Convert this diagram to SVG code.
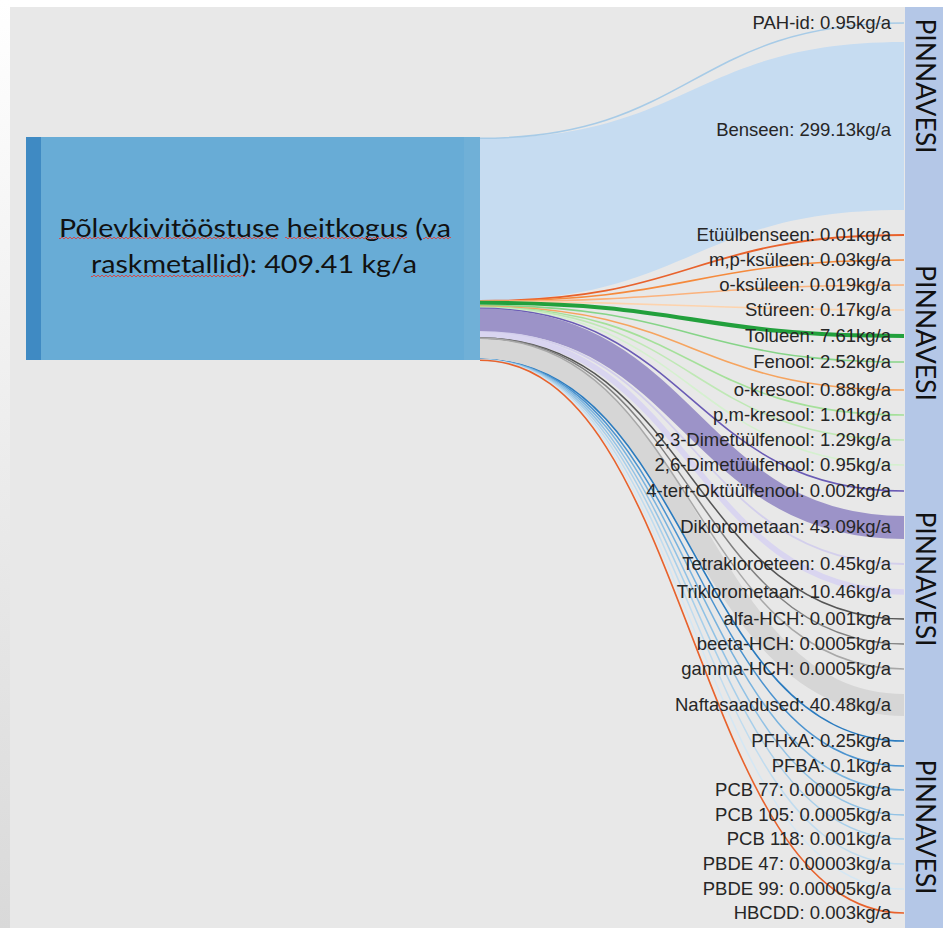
<svg xmlns="http://www.w3.org/2000/svg" width="943" height="928" viewBox="0 0 943 928">
<defs>
<linearGradient id="edge" x1="0" y1="0" x2="0" y2="1">
<stop offset="0" stop-color="#ffffff"/>
<stop offset="1" stop-color="#d9d9d9"/>
</linearGradient>
<pattern id="wave1" x="0" y="0" width="4" height="4" patternUnits="userSpaceOnUse">
<path d="M0,3 L2,1 L4,3" fill="none" stroke="#e0403a" stroke-width="0.9"/>
</pattern>
<pattern id="wave2" x="0" y="2" width="4" height="4" patternUnits="userSpaceOnUse">
<path d="M0,3 L2,1 L4,3" fill="none" stroke="#e0403a" stroke-width="0.9"/>
</pattern>
<style>
.lbl{font-family:"Liberation Sans",Arial,sans-serif;font-size:18.5px;fill:#262626;text-anchor:end}
.main{font-family:Lato,"Open Sans",sans-serif;font-size:25.5px;fill:#111;text-anchor:middle}
.pv{font-family:Lato,"Open Sans",sans-serif;font-size:26px;fill:#111;text-anchor:middle}
.lk{fill:none}
.bar{fill:#b4c7e7}
</style>
</defs>
<rect x="0" y="0" width="943" height="928" fill="#e8e8e8"/>
<rect x="0" y="0" width="943" height="7" fill="#ffffff"/>
<rect x="0" y="0" width="10" height="928" fill="url(#edge)"/>

<g id="connectors">
<path d="M480,138.5 C692,138.5 692,42 904,42 L904,210 C692,210 692,300.6 480,300.6 Z" fill="#c6dcf1"/>
<path class="lk" d="M480,138.3 C692,138.3 692,23 904,23" stroke="#a7cbe7" stroke-width="1.6"/>
<path class="lk" d="M480,301 C692,301 692,235 904,235" stroke="#e8622c" stroke-width="1.8"/>
<path class="lk" d="M480,301.2 C692,301.2 692,260 904,260" stroke="#f58a3c" stroke-width="1.6"/>
<path class="lk" d="M480,301.4 C692,301.4 692,285 904,285" stroke="#fbb27c" stroke-width="1.6"/>
<path class="lk" d="M480,301.6 C692,301.6 692,310 904,310" stroke="#fdd3ad" stroke-width="1.6"/>
<path class="lk" d="M480,302.8 C692,302.8 692,336 904,336" stroke="#22a03c" stroke-width="4.1"/>
<path class="lk" d="M480,305.5 C692,305.5 692,362 904,362" stroke="#86d488" stroke-width="1.6"/>
<path class="lk" d="M480,306.4 C692,306.4 692,390 904,390" stroke="#f6a45f" stroke-width="1.6"/>
<path class="lk" d="M480,307 C692,307 692,415 904,415" stroke="#a5e09a" stroke-width="1.6"/>
<path class="lk" d="M480,307.5 C692,307.5 692,440 904,440" stroke="#bfe8b5" stroke-width="1.6"/>
<path class="lk" d="M480,308 C692,308 692,465 904,465" stroke="#d5f0cf" stroke-width="1.6"/>
<path class="lk" d="M480,308.4 C692,308.4 692,491 904,491" stroke="#6a5bb5" stroke-width="1.6"/>
<path class="lk" d="M480,320.1 C692,320.1 692,527.5 904,527.5" stroke="#9c93c8" stroke-width="23.2"/>
<path class="lk" d="M480,332 C692,332 692,564 904,564" stroke="#d3cfec" stroke-width="1.8"/>
<path class="lk" d="M480,334.9 C692,334.9 692,592 904,592" stroke="#d9d5f0" stroke-width="5.7"/>
<path class="lk" d="M480,348.7 C692,348.7 692,705 904,705" stroke="#d6d6d6" stroke-width="22"/>
<path class="lk" d="M480,337.9 C692,337.9 692,619 904,619" stroke="#555555" stroke-width="1.5"/>
<path class="lk" d="M480,338.1 C692,338.1 692,644 904,644" stroke="#808080" stroke-width="1.5"/>
<path class="lk" d="M480,338.3 C692,338.3 692,669 904,669" stroke="#a8a8a8" stroke-width="1.5"/>
<path class="lk" d="M480,359.4 C692,359.4 692,741 904,741" stroke="#2a7bbf" stroke-width="1.6"/>
<path class="lk" d="M480,359.5 C692,359.5 692,766 904,766" stroke="#4b93cf" stroke-width="1.5"/>
<path class="lk" d="M480,359.6 C692,359.6 692,790 904,790" stroke="#79b3de" stroke-width="1.5"/>
<path class="lk" d="M480,359.7 C692,359.7 692,815 904,815" stroke="#92c2e5" stroke-width="1.5"/>
<path class="lk" d="M480,359.8 C692,359.8 692,839 904,839" stroke="#a8cfea" stroke-width="1.5"/>
<path class="lk" d="M480,359.9 C692,359.9 692,864 904,864" stroke="#c0dcef" stroke-width="1.5"/>
<path class="lk" d="M480,360 C692,360 692,889 904,889" stroke="#d4e7f4" stroke-width="1.5"/>
<path class="lk" d="M480,360.2 C692,360.2 692,913 904,913" stroke="#e8622c" stroke-width="1.6"/>
</g>

<g id="source">
<rect x="26" y="137" width="454" height="223" fill="#68acd6"/>
<rect x="26" y="137" width="15" height="223" fill="#3f8ac3"/>
<rect x="464" y="137" width="16" height="223" fill="#70b0d7"/>
<text class="main" x="255" y="237" textLength="392" lengthAdjust="spacingAndGlyphs">Põlevkivitööstuse heitkogus (va</text>
<text class="main" x="254" y="273" textLength="326" lengthAdjust="spacingAndGlyphs">raskmetallid): 409.41 kg/a</text>
<rect x="59" y="236" width="218" height="4" fill="url(#wave1)"/>
<rect x="285" y="236" width="122" height="4" fill="url(#wave1)"/>
<rect x="423" y="236" width="28" height="4" fill="url(#wave1)"/>
<rect x="91" y="274" width="154" height="4" fill="url(#wave2)"/>
</g>

<g id="target1"><rect class="bar" x="905" y="7" width="38" height="205"/><text class="pv" transform="translate(916,86) rotate(90)" textLength="135" lengthAdjust="spacingAndGlyphs">PINNAVESI</text></g>
<g id="target2"><rect class="bar" x="905" y="212" width="38" height="293"/><text class="pv" transform="translate(916,333) rotate(90)" textLength="136" lengthAdjust="spacingAndGlyphs">PINNAVESI</text></g>
<g id="target3"><rect class="bar" x="905" y="505" width="38" height="215"/><text class="pv" transform="translate(916,579) rotate(90)" textLength="135" lengthAdjust="spacingAndGlyphs">PINNAVESI</text></g>
<g id="target4"><rect class="bar" x="905" y="720" width="38" height="208"/><text class="pv" transform="translate(916,827) rotate(90)" textLength="135" lengthAdjust="spacingAndGlyphs">PINNAVESI</text></g>

<g id="labels">
<text class="lbl" x="891" y="29">PAH-id: 0.95kg/a</text>
<text class="lbl" x="891" y="136">Benseen: 299.13kg/a</text>
<text class="lbl" x="891" y="241">Etüülbenseen: 0.01kg/a</text>
<text class="lbl" x="891" y="266">m,p-ksüleen: 0.03kg/a</text>
<text class="lbl" x="891" y="291">o-ksüleen: 0.019kg/a</text>
<text class="lbl" x="891" y="316">Stüreen: 0.17kg/a</text>
<text class="lbl" x="891" y="342">Tolueen: 7.61kg/a</text>
<text class="lbl" x="891" y="368">Fenool: 2.52kg/a</text>
<text class="lbl" x="891" y="396">o-kresool: 0.88kg/a</text>
<text class="lbl" x="891" y="421">p,m-kresool: 1.01kg/a</text>
<text class="lbl" x="891" y="446">2,3-Dimetüülfenool: 1.29kg/a</text>
<text class="lbl" x="891" y="471">2,6-Dimetüülfenool: 0.95kg/a</text>
<text class="lbl" x="891" y="497">4-tert-Oktüülfenool: 0.002kg/a</text>
<text class="lbl" x="891" y="533">Diklorometaan: 43.09kg/a</text>
<text class="lbl" x="891" y="570">Tetrakloroeteen: 0.45kg/a</text>
<text class="lbl" x="891" y="598">Triklorometaan: 10.46kg/a</text>
<text class="lbl" x="891" y="625">alfa-HCH: 0.001kg/a</text>
<text class="lbl" x="891" y="650">beeta-HCH: 0.0005kg/a</text>
<text class="lbl" x="891" y="675">gamma-HCH: 0.0005kg/a</text>
<text class="lbl" x="891" y="711">Naftasaadused: 40.48kg/a</text>
<text class="lbl" x="891" y="747">PFHxA: 0.25kg/a</text>
<text class="lbl" x="891" y="772">PFBA: 0.1kg/a</text>
<text class="lbl" x="891" y="796">PCB 77: 0.00005kg/a</text>
<text class="lbl" x="891" y="821">PCB 105: 0.0005kg/a</text>
<text class="lbl" x="891" y="845">PCB 118: 0.001kg/a</text>
<text class="lbl" x="891" y="870">PBDE 47: 0.00003kg/a</text>
<text class="lbl" x="891" y="895">PBDE 99: 0.00005kg/a</text>
<text class="lbl" x="891" y="919">HBCDD: 0.003kg/a</text>
</g>
</svg>
